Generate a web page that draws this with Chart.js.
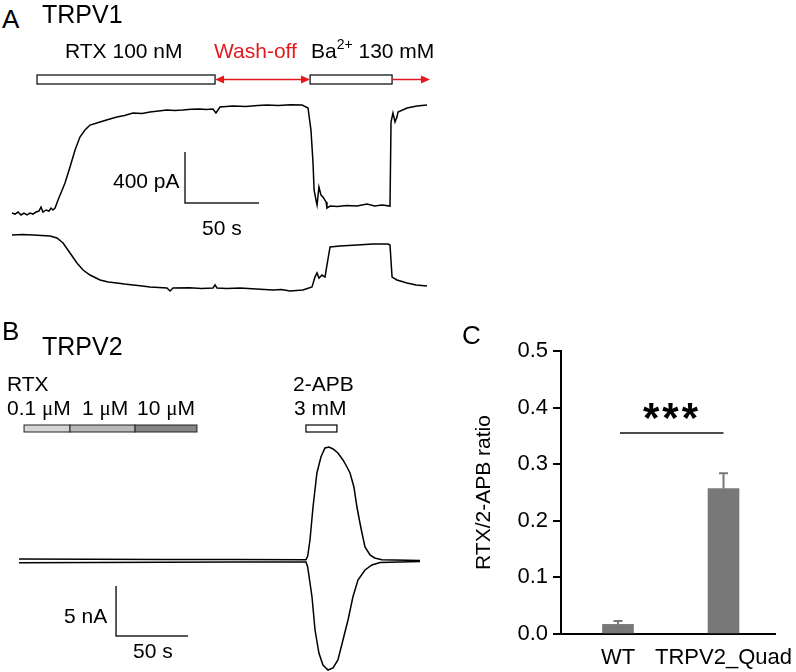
<!DOCTYPE html>
<html><head><meta charset="utf-8">
<script src="https://cdn.jsdelivr.net/npm/chart.js@4.4.1/dist/chart.umd.min.js"></script>
<style>
html,body{margin:0;padding:0;background:#fff;}
#wrap{position:relative;width:796px;height:672px;overflow:hidden;font-family:"Liberation Sans",Arial,sans-serif;color:#000;}
canvas{position:absolute;}
.t{position:absolute;line-height:1;white-space:nowrap;font-size:21px;}
.mu{font-family:"Liberation Serif","Times New Roman",serif;}
</style></head><body>
<div id="wrap">
<canvas id="cA" width="450" height="260" style="left:0;top:60px;width:450px;height:260px"></canvas>
<canvas id="cB" width="440" height="342" style="left:0;top:330px;width:440px;height:342px"></canvas>
<canvas id="cC" width="336" height="352" style="left:460px;top:320px;width:336px;height:352px"></canvas>

<div class="t" style="left:2px;top:6px;font-size:26px">A</div>
<div class="t" style="left:42px;top:2px;font-size:25px">TRPV1</div>
<div class="t" style="left:65px;top:40px">RTX 100 nM</div>
<div class="t" style="left:214px;top:40px;color:#e3191f">Wash-off</div>
<div class="t" style="left:311px;top:40px">Ba<span style="position:relative;top:-9px;font-size:14px">2+</span> 130 mM</div>
<div class="t" style="left:113px;top:170px">400 pA</div>
<div class="t" style="left:202px;top:217px">50 s</div>

<div class="t" style="left:2px;top:318px;font-size:26px">B</div>
<div class="t" style="left:42px;top:334px;font-size:25px">TRPV2</div>
<div class="t" style="left:7px;top:373px">RTX</div>
<div class="t" style="left:7px;top:397px">0.1 <span class="mu">μ</span>M</div>
<div class="t" style="left:82px;top:397px">1 <span class="mu">μ</span>M</div>
<div class="t" style="left:137px;top:397px">10 <span class="mu">μ</span>M</div>
<div class="t" style="left:293px;top:373px">2-APB</div>
<div class="t" style="left:294px;top:397px">3 mM</div>
<div class="t" style="left:64px;top:605px">5 nA</div>
<div class="t" style="left:133px;top:640px">50 s</div>

<div class="t" style="left:462px;top:322px;font-size:26px">C</div>
<div class="t" style="left:609px;top:397px;width:120px;text-align:center;font-size:42px;font-weight:bold;letter-spacing:3px;padding-left:3px">***</div>
</div>

<script>
// ---------- Panel A: TRPV1 current traces (time in s, current in pA) ----------
const trpv1Outward = [[0,86],[2,78],[4.1,94],[6.1,71],[8.1,86],[10.1,71],[12.2,86],[14.2,78],[16.2,94],[18.2,102],[19.6,133],[20.9,94],[23,110],[25,102],[26.4,125],[27.7,110],[29.1,125],[31.1,188],[33.5,255],[35.8,322],[39.2,447],[42.6,580],[45.9,682],[49.3,737],[52.7,776],[59.5,800],[65,820],[70.9,839],[76,851],[81.8,871],[88,867],[93.2,878],[99,886],[104.7,894],[110,890],[115.5,894],[121,900],[127,902],[131,898],[135.8,902],[137.8,871],[140.5,918],[149.3,925],[158,922],[166,930],[172.3,933],[180,929],[188,935],[196,933],[200,910],[202,737],[203.4,478],[204.1,267],[205.4,188],[206.1,149],[207.4,290],[208.8,227],[210.1,212],[212.2,173],[212.8,125],[214.9,141],[220,137],[226,145],[233.1,141],[239.9,157],[245,141],[250,149],[255.4,141],[256.1,800],[257.4,871],[258.8,800],[260.1,839],[260.8,878],[266.9,910],[273.6,925],[280.4,933]];
const trpv1Inward = [[0,-86],[7,-82],[14.2,-86],[20,-90],[25.7,-94],[30.4,-110],[34.5,-149],[39.2,-227],[43.9,-306],[48,-361],[52.7,-400],[59.5,-439],[65,-455],[70.9,-463],[76,-471],[81.8,-478],[88,-486],[93.2,-494],[99,-498],[104.7,-502],[106.8,-525],[108.8,-502],[120,-500],[128,-506],[135.8,-502],[137.2,-478],[138.5,-502],[145,-506],[154.1,-502],[165,-510],[176.4,-518],[182,-514],[187.8,-525],[196.6,-518],[202.7,-494],[204.7,-416],[206.1,-384],[207.4,-424],[209.5,-400],[211.5,-416],[212.8,-322],[214.9,-180],[221.6,-173],[233.1,-165],[243.9,-157],[254.1,-157],[255.4,-165],[256.8,-416],[260.1,-439],[266.9,-463],[273,-478],[280.4,-486]];
const trpv1RtxPeriod = [16.9, 137.2];
const trpv1WashPeriod = [137.2, 201.4];
const trpv1BaPeriod = [201.4, 256.8];
const trpv1WashEnd = [256.8, 282.4];
const trpv1ScaleBar = {t:116.9, i:165, dt:50, di:400};

// ---------- Panel B: TRPV2 current traces (time in s, current in nA) ----------
const trpv2Outward = [[0,0.2],[50,0.18],[100,0.16],[150,0.14],[199.3,0.12],[200.5,0.5],[202.1,2.1],[204.2,5.4],[206.9,8.8],[209.7,10.4],[212.5,11.3],[215.3,11.4],[218.1,11.2],[221.5,10.8],[225,10.1],[227.8,9.4],[229.9,8.8],[232.6,7.4],[234.7,5.4],[236.8,3.8],[238.2,2.8],[240.3,1.4],[243.8,0.6],[247,0.3],[252,0.12],[278.5,0.05]];
const trpv2Inward = [[0,-0.17],[50,-0.15],[100,-0.13],[150,-0.11],[199.3,-0.1],[200.5,-0.6],[203.5,-3.6],[205.6,-6.9],[208.3,-9.2],[211.1,-10.4],[214.6,-10.9],[218.1,-10.7],[221.5,-9.9],[225,-7.9],[228.5,-5.9],[231.9,-3.6],[235.4,-1.9],[240.3,-0.9],[245.1,-0.4],[250.7,-0.15],[278.5,-0.05]];
const rtxDosePeriods = [[3.5,35.4],[35.4,80.6],[80.6,123.6]];
const apbPeriod = [199.3, 220.8];
const trpv2ScaleBar = {t:67.4, i:-7.5, dt:50, di:5};

// ---------- Panel C: RTX / 2-APB ratio ----------
const categories = ['WT','TRPV2_Quad'];
const ratio = [0.017, 0.257];
const ratioSem = [0.006, 0.027];
const yTicks = [0, 0.1, 0.2, 0.3, 0.4, 0.5];
const sigLevel = 0.355;

const RED = '#e3191f';
const toXY = arr => arr.map(([x,y]) => ({x, y}));

function arrowHead(ctx, x, y, dir){
  ctx.beginPath();
  ctx.moveTo(x, y);
  ctx.lineTo(x - dir*9, y - 4);
  ctx.lineTo(x - dir*9, y + 4);
  ctx.closePath();
  ctx.fill();
}
function drawScaleBar(ctx, x, y, sb){
  const x0 = x.getPixelForValue(sb.t), x1 = x.getPixelForValue(sb.t + sb.dt);
  const y0 = y.getPixelForValue(sb.i), y1 = y.getPixelForValue(sb.i + sb.di);
  ctx.strokeStyle = '#222'; ctx.lineWidth = 1.5;
  ctx.beginPath();
  ctx.moveTo(x0, y1); ctx.lineTo(x0, y0); ctx.lineTo(x1, y0);
  ctx.stroke();
}

const annotA = {
  id:'annotA',
  afterDatasetsDraw(chart){
    const {ctx, scales:{x, y}, chartArea} = chart;
    const top = chartArea.top - 20, h = 9, mid = top + h/2;
    ctx.save();
    ctx.lineWidth = 1.2; ctx.strokeStyle = '#000'; ctx.fillStyle = '#fff';
    [trpv1RtxPeriod, trpv1BaPeriod].forEach(([s,e]) => {
      const a = x.getPixelForValue(s), b = x.getPixelForValue(e);
      ctx.fillRect(a, top, b-a, h); ctx.strokeRect(a, top, b-a, h);
    });
    ctx.strokeStyle = RED; ctx.fillStyle = RED; ctx.lineWidth = 1.4;
    let a = x.getPixelForValue(trpv1WashPeriod[0]), b = x.getPixelForValue(trpv1WashPeriod[1]);
    ctx.beginPath(); ctx.moveTo(a+4, mid); ctx.lineTo(b-4, mid); ctx.stroke();
    arrowHead(ctx, a, mid, -1); arrowHead(ctx, b, mid, 1);
    a = x.getPixelForValue(trpv1WashEnd[0]); b = x.getPixelForValue(trpv1WashEnd[1]);
    ctx.beginPath(); ctx.moveTo(a, mid); ctx.lineTo(b-4, mid); ctx.stroke();
    arrowHead(ctx, b, mid, 1);
    drawScaleBar(ctx, x, y, trpv1ScaleBar);
    ctx.restore();
  }
};

const annotB = {
  id:'annotB',
  afterDatasetsDraw(chart){
    const {ctx, scales:{x, y}, chartArea} = chart;
    const top = chartArea.top - 15, h = 7;
    const fills = ['#d6d6d6', '#b8b8b8', '#858585'];
    ctx.save();
    ctx.lineWidth = 1; ctx.strokeStyle = '#222';
    rtxDosePeriods.forEach(([s,e], i) => {
      const a = x.getPixelForValue(s), b = x.getPixelForValue(e);
      ctx.fillStyle = fills[i];
      ctx.fillRect(a, top, b-a, h); ctx.strokeRect(a, top, b-a, h);
    });
    ctx.fillStyle = '#fff'; ctx.lineWidth = 1.2; ctx.strokeStyle = '#000';
    const a = x.getPixelForValue(apbPeriod[0]), b = x.getPixelForValue(apbPeriod[1]);
    ctx.fillRect(a, top, b-a, h); ctx.strokeRect(a, top, b-a, h);
    drawScaleBar(ctx, x, y, trpv2ScaleBar);
    ctx.restore();
  }
};

const annotC = {
  id:'annotC',
  afterDatasetsDraw(chart){
    const {ctx, scales:{x, y}} = chart;
    ctx.save();
    ctx.strokeStyle = '#787878'; ctx.lineWidth = 2;
    categories.forEach((c, i) => {
      const px = x.getPixelForValue(i);
      const yb = y.getPixelForValue(ratio[i]), yt = y.getPixelForValue(ratio[i] + ratioSem[i]);
      ctx.beginPath();
      ctx.moveTo(px, yb); ctx.lineTo(px, yt);
      ctx.moveTo(px - 4.5, yt); ctx.lineTo(px + 4.5, yt);
      ctx.stroke();
    });
    ctx.strokeStyle = '#111'; ctx.lineWidth = 1.4;
    const ys = y.getPixelForValue(sigLevel);
    ctx.beginPath(); ctx.moveTo(x.getPixelForValue(0) + 2, ys); ctx.lineTo(x.getPixelForValue(1), ys); ctx.stroke();
    ctx.restore();
  }
};

const baseOpts = {
  responsive:false, animation:false, devicePixelRatio:1, events:[],
  plugins:{legend:{display:false}, tooltip:{enabled:false}}
};
const traceStyle = {borderColor:'#000', borderWidth:1.5, pointRadius:0, tension:0, clip:false, fill:false};

new Chart(document.getElementById('cA'), {
  type:'line',
  data:{datasets:[
    Object.assign({data:toXY(trpv1Outward)}, traceStyle),
    Object.assign({data:toXY(trpv1Inward)}, traceStyle)
  ]},
  options:Object.assign({}, baseOpts, {
    layout:{padding:{left:12, right:23, top:35, bottom:20}},
    scales:{
      x:{type:'linear', display:false, min:0, max:280.4},
      y:{type:'linear', display:false, min:-596, max:1012}
    }
  }),
  plugins:[annotA]
});

new Chart(document.getElementById('cB'), {
  type:'line',
  data:{datasets:[
    Object.assign({data:toXY(trpv2Outward)}, traceStyle),
    Object.assign({data:toXY(trpv2Inward)}, traceStyle)
  ]},
  options:Object.assign({}, baseOpts, {
    layout:{padding:{left:19, right:20, top:110, bottom:0}},
    scales:{
      x:{type:'linear', display:false, min:0, max:278.5},
      y:{type:'linear', display:false, min:-11.1, max:12.1}
    }
  }),
  plugins:[annotB]
});

new Chart(document.getElementById('cC'), {
  type:'bar',
  data:{datasets:[{
    data: categories.map((c, i) => ({x:i, y:ratio[i]})),
    backgroundColor:'#787878', borderWidth:0, barThickness:31
  }]},
  options:Object.assign({}, baseOpts, {
    layout:{padding:{left:0, right:21, top:31, bottom:0}},
    scales:{
      x:{
        type:'linear', min:-0.54, max:1.488, offset:false,
        afterBuildTicks: s => { s.ticks = categories.map((c, i) => ({value:i})); },
        afterFit: s => { s.height = 38; s.paddingLeft = 0; s.paddingRight = 0; },
        grid:{display:false, drawTicks:false, offset:false},
        border:{display:true, color:'#000', width:2},
        ticks:{autoSkip:false, maxRotation:0, padding:11, color:'#000',
          font:{family:'"Liberation Sans", Arial, sans-serif', size:22},
          callback: v => categories[v]}
      },
      y:{
        type:'linear', min:0, max:0.5,
        afterBuildTicks: s => { s.ticks = yTicks.map(v => ({value:v})); },
        afterFit: s => { s.width = 101; },
        grid:{drawOnChartArea:false, drawTicks:true, tickLength:8, color:'#000', lineWidth:2},
        border:{display:true, color:'#000', width:2},
        ticks:{padding:5, color:'#000',
          font:{family:'"Liberation Sans", Arial, sans-serif', size:22},
          callback: v => v.toFixed(1)},
        title:{display:true, text:'RTX/2-APB ratio', color:'#000', padding:{top:12, bottom:0},
          font:{family:'"Liberation Sans", Arial, sans-serif', size:21}}
      }
    }
  }),
  plugins:[annotC]
});
</script>
</body></html>
